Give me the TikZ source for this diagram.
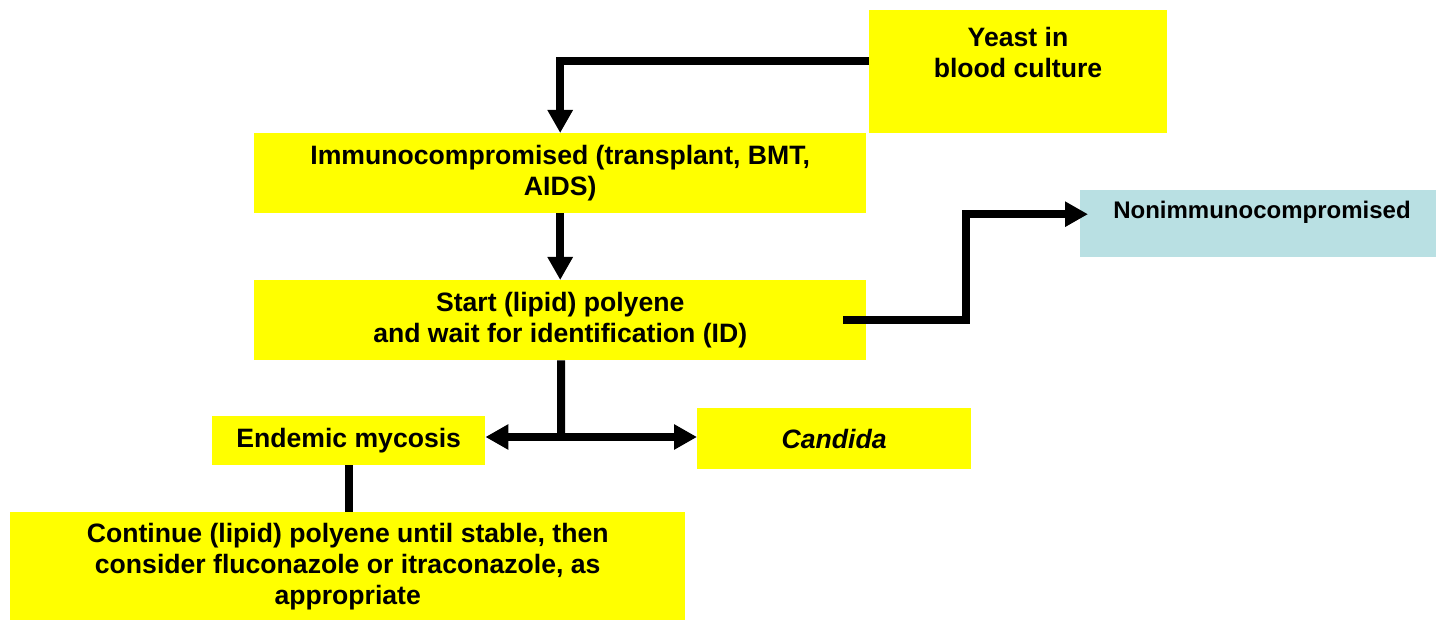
\documentclass[tikz,border=0pt]{standalone}
\usepackage{fontspec}
\setmainfont{Liberation Sans}
\usetikzlibrary{arrows.meta}
\definecolor{yfill}{RGB}{255,255,0}
\definecolor{bfill}{RGB}{185,224,227}
\tikzset{
  box/.style={fill=yfill, draw=none, inner sep=0pt, anchor=north west, align=center,
    font=\bfseries\fontsize{26.6}{31}\selectfont},
  lbl/.style={inner sep=0pt, align=center, font=\bfseries\fontsize{26.6}{31}\selectfont},
  conn/.style={line width=8pt, line join=miter, draw=black},
  tip/.style={-{Triangle[width=24pt,length=23pt]}},
  tips/.style={{Triangle[width=24pt,length=23pt]}-{Triangle[width=24pt,length=23pt]}}
}
\begin{document}
\begin{tikzpicture}[x=1pt,y=-1pt]
\useasboundingbox (0,0) rectangle (1436,620);
% boxes
\node[box, minimum width=298pt, minimum height=123pt] (yeast) at (869,10) {};
\node[lbl] (yeastlbl) at (1018,52) {Yeast in\\blood culture};
\node[box, minimum width=612pt, minimum height=80pt] (immuno) at (254,133)
  {Immunocompromised (transplant, BMT,\\AIDS)};
\node[box, minimum width=612pt, minimum height=80pt] (start) at (254,280)
  {Start (lipid) polyene\\and wait for identification (ID)};
\node[box, fill=bfill, minimum width=356pt, minimum height=67pt] (nonimm) at (1080,190) {};
\node[lbl, font=\bfseries\fontsize{24}{29}\selectfont] (nonimmlbl) at (1262,212) {Nonimmunocompromised};
\node[box, minimum width=273pt, minimum height=49pt] (endemic) at (212,416) {Endemic mycosis};
\node[box, minimum width=274pt, minimum height=61pt] (candida) at (697,408) {\itshape Candida};
\node[box, minimum width=675pt, minimum height=108pt] (cont) at (10,512)
  {Continue (lipid) polyene until stable, then\\consider fluconazole or itraconazole, as\\appropriate};
% connectors
\draw[conn, tip] ([yshift=10.5pt]yeast.west) -| (immuno.north);
\draw[conn, tip] (immuno.south) -- (start.north);
\draw[conn, tip] ([xshift=-23pt]start.east) -- ++(123,0) |- ([xshift=8pt,yshift=9.5pt]nonimm.west);
\coordinate (junc) at (561,437);
\draw[conn] ([xshift=1pt]start.south) -- (junc);
\draw[conn, tips] (junc -| endemic.east) -- (junc -| candida.west);
\draw[conn] (endemic.south) -- (endemic.south |- cont.north);
\end{tikzpicture}
\end{document}
